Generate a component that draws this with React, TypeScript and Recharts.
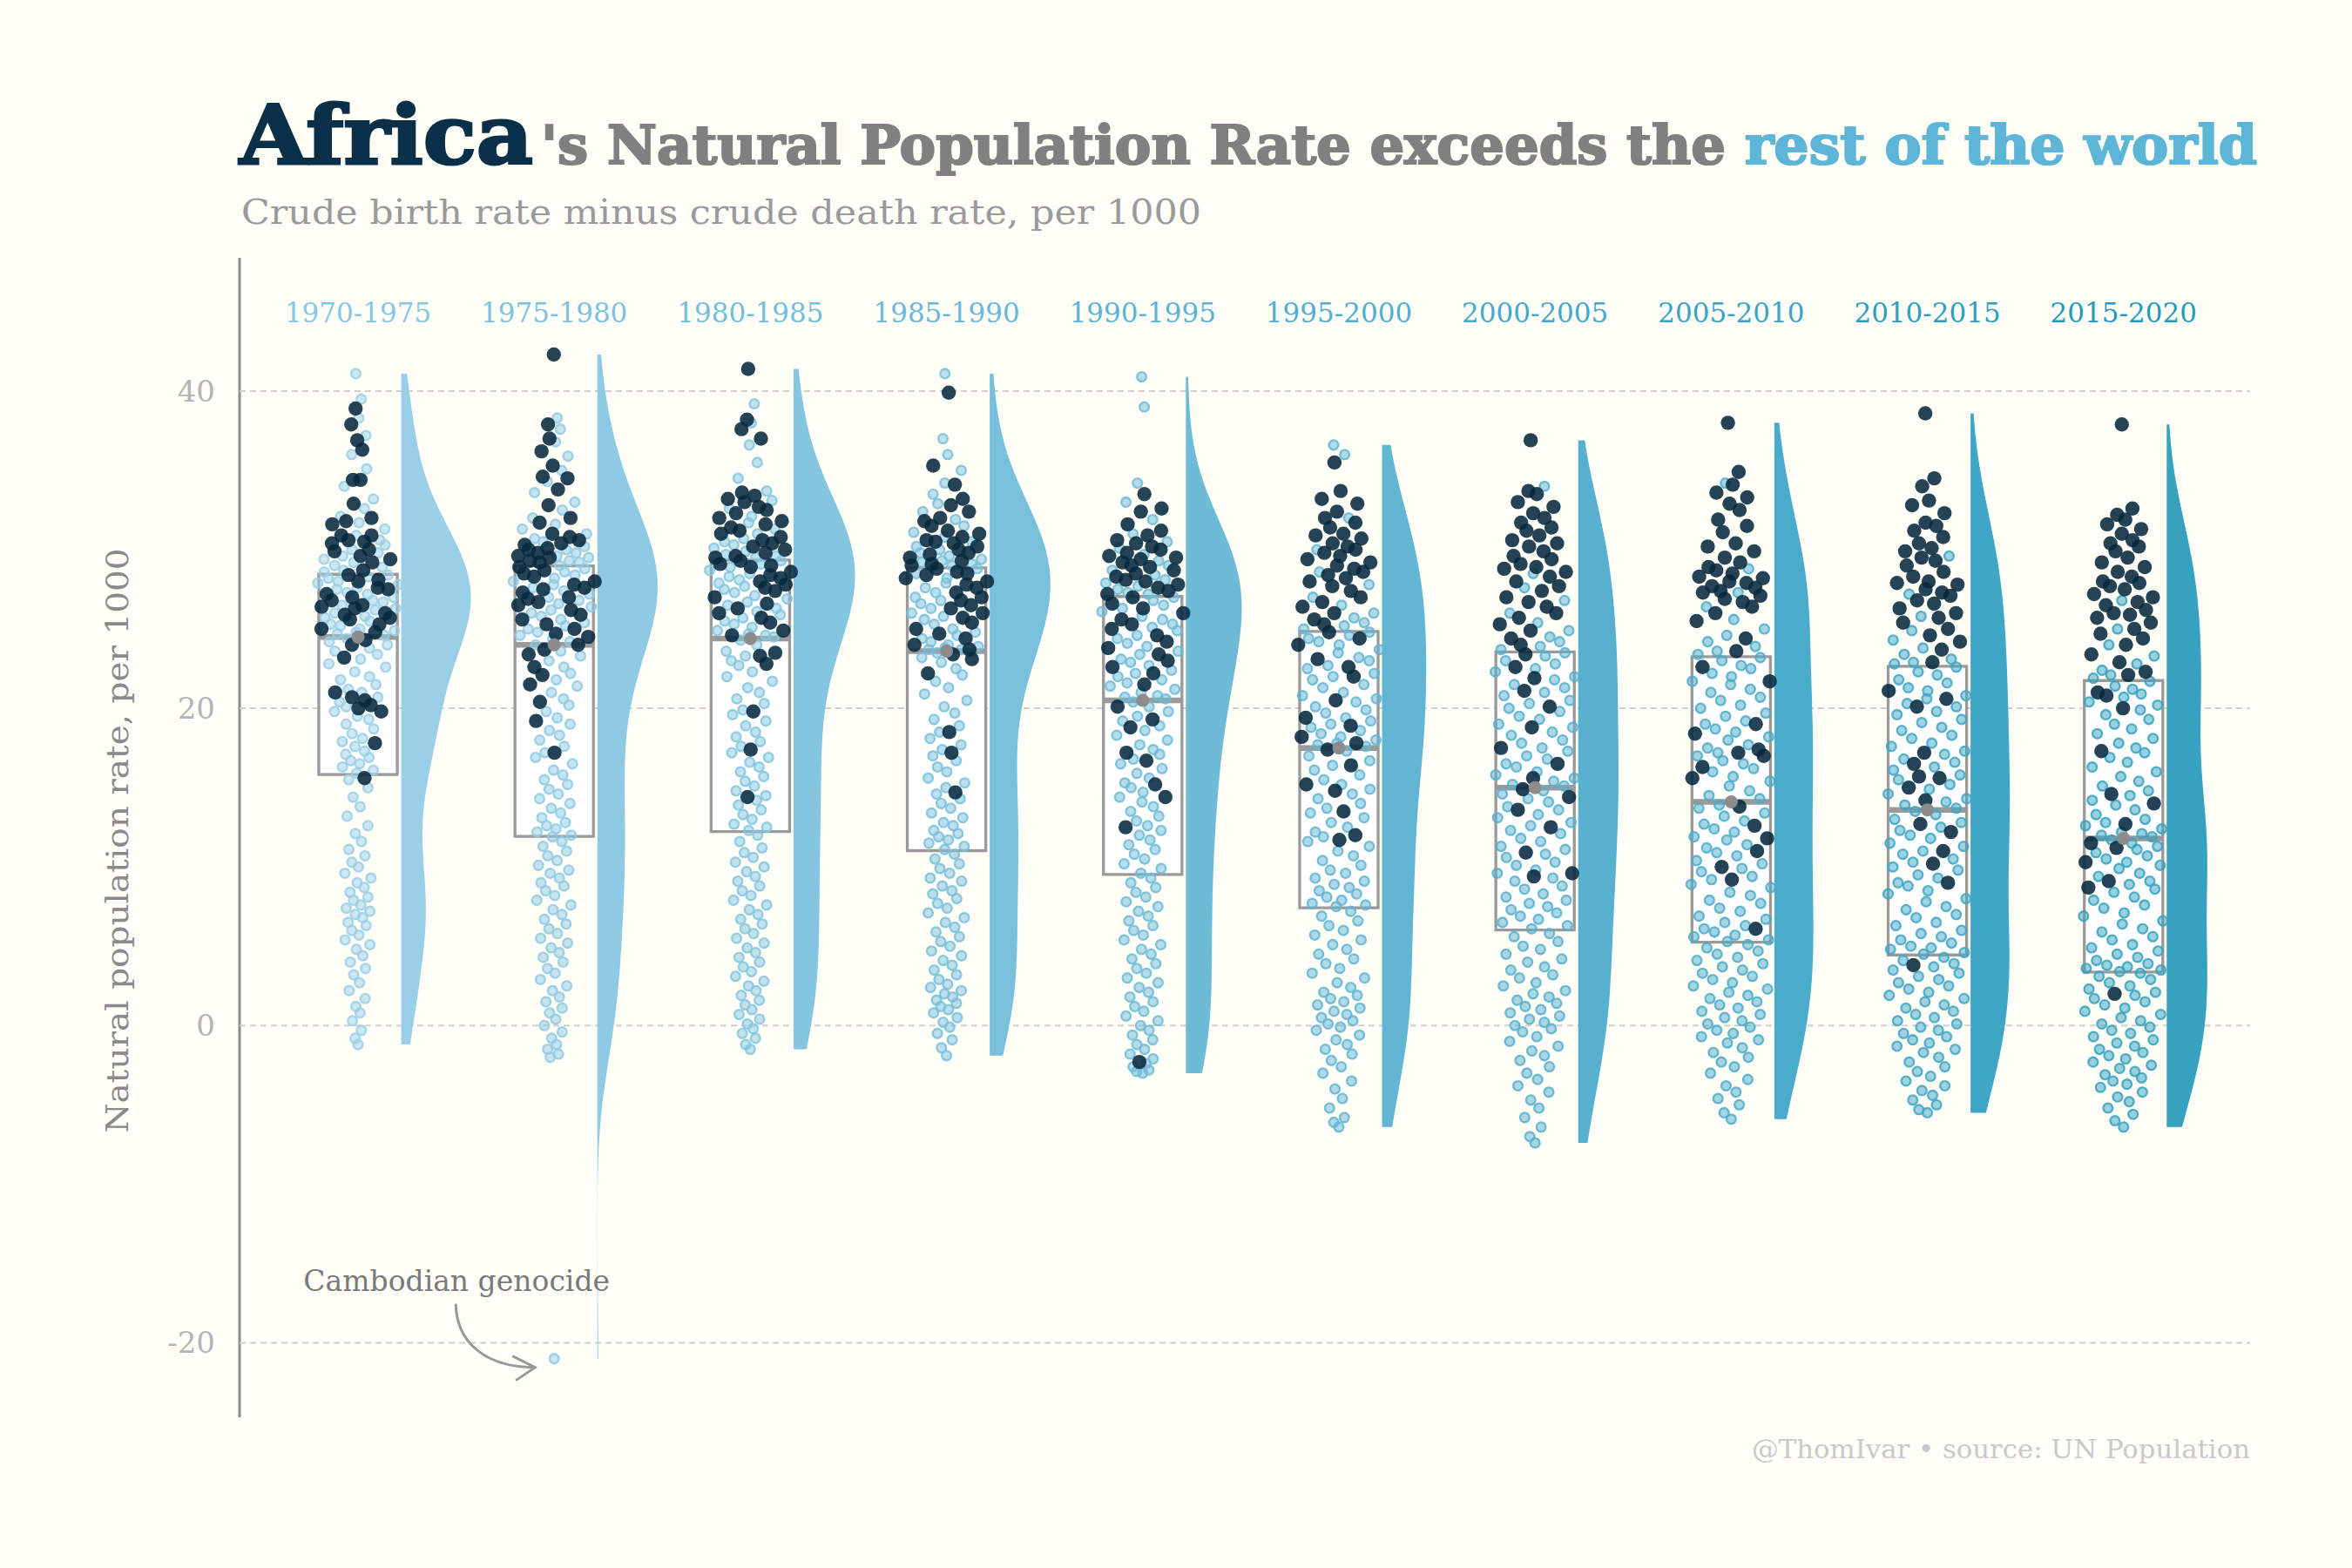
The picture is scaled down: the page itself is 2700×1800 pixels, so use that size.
import React from 'react';
import { ComposedChart, Scatter, XAxis, YAxis } from 'recharts';

// natural population rate (births - deaths per 1000), one value per country
const PERIODS = ['1970-1975', '1975-1980', '1980-1985', '1985-1990', '1990-1995', '1995-2000', '2000-2005', '2005-2010', '2010-2015', '2015-2020'];

const AFRICA_1970 = [38.9, 37.9, 36.9, 36.3, 34.4, 34.4, 32.9, 32.0, 31.8, 31.6, 30.9, 30.9, 30.6, 30.5, 30.4, 30.0, 29.9, 29.6, 29.4, 29.2, 28.7, 28.4, 28.1, 28.0, 27.6, 27.5, 27.2, 27.0, 26.8, 26.5, 26.4, 26.3, 26.0, 25.9, 25.7, 25.6, 25.3, 25.0, 24.8, 24.3, 24.0, 23.2, 21.0, 20.7, 20.5, 20.2, 20.0, 19.8, 17.8, 15.6];
const REST_1970 = [41.1, 39.5, 38.3, 37.2, 36.0, 35.1, 34.0, 33.2, 32.6, 32.1, 31.7, 31.3, 30.9, 30.6, 30.3, 30.0, 29.8, 29.6, 29.4, 29.2, 29.0, 28.9, 28.7, 28.6, 28.4, 28.3, 28.2, 28.0, 27.9, 27.8, 27.6, 27.5, 27.3, 27.2, 27.0, 26.8, 26.7, 26.5, 26.3, 26.2, 26.0, 25.8, 25.7, 25.5, 25.3, 25.2, 25.0, 24.9, 24.8, 24.7, 24.6, 24.4, 24.2, 24.0, 23.8, 23.6, 23.4, 23.1, 22.8, 22.6, 22.3, 22.0, 21.8, 21.5, 21.2, 21.0, 20.7, 20.4, 20.1, 19.8, 19.5, 19.3, 19.0, 18.7, 18.4, 18.1, 17.9, 17.6, 17.3, 17.1, 16.9, 16.7, 16.5, 16.3, 16.1, 15.9, 15.5, 15.0, 14.4, 13.8, 13.2, 12.6, 12.1, 11.6, 11.1, 10.7, 10.3, 10.0, 9.6, 9.3, 9.0, 8.7, 8.4, 8.1, 7.9, 7.6, 7.4, 7.2, 7.0, 6.8, 6.5, 6.3, 6.0, 5.7, 5.4, 5.1, 4.8, 4.4, 4.0, 3.6, 3.2, 2.7, 2.2, 1.7, 1.2, 0.8, 0.3, -0.3, -0.8, -1.2];

const AFRICA_1975 = [42.3, 37.9, 37.0, 36.2, 35.3, 34.6, 34.5, 33.8, 32.8, 32.0, 31.7, 31.0, 30.8, 30.6, 30.4, 30.3, 30.1, 30.0, 29.8, 29.6, 29.5, 29.3, 29.2, 28.9, 28.7, 28.5, 28.3, 28.0, 27.8, 27.6, 27.5, 27.3, 27.0, 26.9, 26.7, 26.5, 26.2, 25.9, 25.6, 25.3, 25.0, 24.7, 24.5, 24.0, 23.7, 23.4, 22.6, 22.1, 21.5, 20.4, 19.2, 17.2];
const REST_1975 = [38.3, 37.6, 36.8, 35.9, 35.0, 34.3, 33.6, 33.0, 32.5, 32.0, 31.6, 31.3, 31.0, 30.7, 30.5, 30.2, 30.0, 29.8, 29.6, 29.5, 29.3, 29.2, 29.0, 28.8, 28.6, 28.4, 28.2, 28.0, 27.8, 27.6, 27.4, 27.2, 27.0, 26.8, 26.6, 26.4, 26.2, 26.0, 25.8, 25.6, 25.4, 25.2, 25.0, 24.8, 24.6, 24.4, 24.2, 24.0, 23.6, 23.3, 23.0, 22.6, 22.2, 21.8, 21.4, 21.0, 20.6, 20.2, 19.8, 19.4, 19.0, 18.6, 18.3, 18.0, 17.6, 17.2, 16.9, 16.5, 16.1, 15.8, 15.5, 15.2, 14.9, 14.6, 14.3, 14.0, 13.7, 13.4, 13.1, 12.8, 12.6, 12.4, 12.2, 12.0, 11.9, 11.6, 11.3, 11.0, 10.7, 10.4, 10.1, 9.8, 9.6, 9.3, 9.0, 8.8, 8.5, 8.2, 7.9, 7.6, 7.3, 7.0, 6.7, 6.4, 6.1, 5.8, 5.5, 5.2, 4.9, 4.6, 4.3, 4.0, 3.6, 3.3, 2.9, 2.5, 2.2, 1.8, 1.5, 1.1, 0.8, 0.4, 0.0, -0.4, -0.8, -1.2, -1.5, -1.8, -2.0, -21.0];

const AFRICA_1980 = [41.4, 38.2, 37.6, 37.0, 33.6, 33.4, 33.2, 33.0, 32.7, 32.5, 32.3, 32.0, 31.8, 31.6, 31.4, 31.2, 31.0, 30.8, 30.6, 30.4, 30.2, 30.0, 29.8, 29.6, 29.5, 29.3, 29.1, 29.0, 28.9, 28.6, 28.4, 28.2, 28.0, 27.8, 27.6, 27.4, 27.0, 26.6, 26.3, 26.0, 25.7, 25.4, 24.9, 24.6, 23.5, 23.3, 22.8, 19.8, 17.4, 14.4];
const REST_1980 = [39.2, 38.0, 36.6, 35.5, 34.5, 33.7, 33.1, 32.6, 32.1, 31.7, 31.3, 31.0, 30.7, 30.5, 30.3, 30.1, 29.9, 29.7, 29.6, 29.5, 29.3, 29.1, 28.9, 28.7, 28.5, 28.3, 28.1, 27.9, 27.7, 27.5, 27.3, 27.1, 26.9, 26.7, 26.5, 26.3, 26.1, 25.9, 25.7, 25.5, 25.3, 25.1, 24.9, 24.7, 24.6, 24.5, 24.3, 24.0, 23.6, 23.3, 23.0, 22.7, 22.3, 22.0, 21.7, 21.3, 21.0, 20.6, 20.3, 19.9, 19.6, 19.2, 18.9, 18.5, 18.2, 17.9, 17.6, 17.2, 16.9, 16.6, 16.3, 16.0, 15.7, 15.4, 15.1, 14.8, 14.5, 14.2, 13.9, 13.6, 13.3, 13.0, 12.7, 12.5, 12.3, 12.0, 11.6, 11.2, 10.9, 10.6, 10.3, 10.0, 9.7, 9.4, 9.1, 8.8, 8.5, 8.2, 7.9, 7.6, 7.3, 7.0, 6.7, 6.4, 6.1, 5.8, 5.5, 5.2, 4.9, 4.6, 4.3, 4.0, 3.7, 3.4, 3.1, 2.8, 2.5, 2.2, 1.9, 1.6, 1.3, 1.0, 0.7, 0.4, 0.1, -0.2, -0.5, -0.8, -1.2, -1.5];

const AFRICA_1985 = [39.9, 35.3, 34.1, 33.2, 32.8, 32.4, 32.0, 31.8, 31.5, 31.2, 31.0, 30.8, 30.6, 30.5, 30.4, 30.2, 30.0, 29.8, 29.7, 29.5, 29.3, 29.1, 29.0, 28.8, 28.6, 28.5, 28.4, 28.2, 28.0, 27.8, 27.6, 27.3, 27.0, 26.8, 26.5, 26.3, 26.0, 25.7, 25.4, 25.0, 24.7, 24.4, 24.0, 23.7, 23.4, 23.1, 22.2, 18.5, 17.2, 14.7];
const REST_1985 = [41.1, 37.0, 36.0, 35.0, 34.2, 33.5, 32.9, 32.4, 31.9, 31.5, 31.1, 30.8, 30.5, 30.2, 30.0, 29.8, 29.6, 29.4, 29.3, 29.2, 29.1, 29.0, 28.8, 28.5, 28.2, 27.9, 27.6, 27.3, 27.0, 26.8, 26.6, 26.3, 26.0, 25.8, 25.6, 25.3, 25.0, 24.8, 24.6, 24.4, 24.2, 24.0, 23.9, 23.8, 23.7, 23.7, 23.5, 23.2, 22.9, 22.5, 22.1, 21.7, 21.3, 20.9, 20.5, 20.1, 19.7, 19.3, 18.9, 18.5, 18.1, 17.7, 17.4, 17.0, 16.7, 16.3, 16.0, 15.6, 15.3, 15.0, 14.6, 14.3, 14.0, 13.7, 13.4, 13.1, 12.8, 12.6, 12.3, 12.1, 11.9, 11.7, 11.5, 11.3, 11.1, 10.8, 10.5, 10.2, 9.9, 9.6, 9.3, 9.1, 8.8, 8.5, 8.3, 8.0, 7.7, 7.4, 7.1, 6.8, 6.5, 6.2, 5.9, 5.6, 5.3, 5.0, 4.7, 4.4, 4.1, 3.8, 3.5, 3.2, 2.9, 2.6, 2.4, 2.2, 2.0, 1.8, 1.6, 1.4, 1.2, 1.0, 0.8, 0.5, 0.2, -0.1, -0.5, -0.9, -1.4, -1.9];

const AFRICA_1990 = [33.5, 32.6, 32.4, 31.6, 31.2, 30.9, 30.6, 30.4, 30.2, 30.0, 29.8, 29.6, 29.5, 29.4, 29.2, 29.0, 28.9, 28.7, 28.5, 28.3, 28.1, 28.0, 27.8, 27.6, 27.4, 27.2, 27.0, 26.6, 26.3, 26.0, 25.6, 25.3, 25.0, 24.6, 24.2, 23.8, 23.4, 23.0, 22.6, 22.2, 21.5, 20.1, 19.3, 18.8, 17.2, 16.7, 15.2, 14.4, 12.5, -2.3];
const REST_1990 = [40.9, 39.0, 34.2, 33.0, 31.9, 31.0, 30.5, 30.1, 29.7, 29.3, 29.0, 28.7, 28.4, 28.1, 27.9, 27.7, 27.5, 27.3, 27.2, 27.0, 26.8, 26.5, 26.3, 26.1, 25.8, 25.6, 25.3, 25.1, 24.9, 24.6, 24.4, 24.1, 23.9, 23.6, 23.4, 23.1, 22.9, 22.7, 22.4, 22.2, 22.0, 21.8, 21.6, 21.4, 21.2, 21.0, 20.8, 20.7, 20.6, 20.4, 20.1, 19.8, 19.5, 19.2, 18.9, 18.6, 18.3, 18.0, 17.7, 17.4, 17.1, 16.8, 16.5, 16.2, 15.9, 15.6, 15.3, 15.0, 14.7, 14.4, 14.1, 13.8, 13.5, 13.2, 12.9, 12.6, 12.3, 12.0, 11.7, 11.4, 11.1, 10.8, 10.5, 10.2, 9.9, 9.6, 9.3, 9.0, 8.7, 8.4, 8.1, 7.8, 7.5, 7.2, 6.9, 6.6, 6.3, 6.0, 5.7, 5.4, 5.1, 4.8, 4.5, 4.2, 3.9, 3.6, 3.3, 3.0, 2.7, 2.4, 2.1, 1.8, 1.5, 1.2, 0.9, 0.6, 0.3, 0.0, -0.3, -0.6, -0.9, -1.2, -1.5, -1.8, -2.1, -2.4, -2.6, -2.8, -2.9, -3.0];

const AFRICA_1995 = [35.5, 33.7, 33.2, 32.9, 32.4, 32.0, 31.7, 31.4, 31.0, 30.9, 30.7, 30.4, 30.2, 30.0, 29.8, 29.6, 29.4, 29.2, 29.0, 28.8, 28.6, 28.4, 28.2, 28.0, 27.7, 27.4, 27.0, 26.7, 26.4, 26.0, 25.6, 25.3, 24.8, 24.4, 24.0, 23.1, 22.6, 22.0, 20.5, 19.4, 18.9, 18.2, 17.8, 17.4, 16.4, 15.2, 14.8, 13.5, 12.0, 11.7];
const REST_1995 = [36.6, 36.0, 32.0, 30.0, 28.6, 27.8, 27.0, 26.5, 26.0, 25.7, 25.4, 25.2, 25.0, 24.8, 24.6, 24.4, 24.2, 24.0, 23.7, 23.5, 23.2, 23.0, 22.7, 22.5, 22.2, 22.0, 21.8, 21.5, 21.3, 21.0, 20.8, 20.6, 20.4, 20.1, 19.9, 19.7, 19.4, 19.2, 19.0, 18.8, 18.6, 18.4, 18.2, 18.0, 17.8, 17.7, 17.6, 17.3, 17.0, 16.7, 16.4, 16.1, 15.8, 15.5, 15.2, 14.9, 14.6, 14.3, 14.0, 13.7, 13.4, 13.1, 12.8, 12.5, 12.2, 11.9, 11.6, 11.3, 11.0, 10.7, 10.4, 10.1, 9.8, 9.6, 9.3, 9.1, 8.9, 8.7, 8.5, 8.3, 8.1, 7.9, 7.7, 7.6, 7.5, 7.2, 6.9, 6.6, 6.3, 6.0, 5.7, 5.4, 5.1, 4.8, 4.5, 4.2, 3.9, 3.6, 3.3, 3.0, 2.7, 2.4, 2.1, 1.9, 1.7, 1.5, 1.3, 1.1, 0.9, 0.7, 0.5, 0.3, 0.1, -0.1, -0.3, -0.6, -0.9, -1.2, -1.5, -1.8, -2.2, -2.6, -3.0, -3.5, -4.0, -4.6, -5.2, -5.8, -6.1, -6.4];

const AFRICA_2000 = [36.9, 33.7, 33.5, 33.0, 32.7, 32.3, 32.0, 31.7, 31.4, 31.2, 30.9, 30.6, 30.4, 30.2, 29.9, 29.6, 29.4, 29.1, 28.9, 28.8, 28.6, 28.3, 28.0, 27.7, 27.4, 27.0, 26.7, 26.4, 26.0, 25.7, 25.3, 24.9, 24.4, 24.0, 23.4, 22.6, 21.9, 21.1, 20.1, 18.8, 17.5, 16.5, 15.6, 14.9, 14.4, 13.6, 12.5, 10.9, 9.6, 9.4];
const REST_2000 = [34.0, 28.5, 27.6, 26.8, 26.0, 25.4, 24.9, 24.5, 24.2, 23.9, 23.7, 23.5, 23.3, 23.0, 22.8, 22.5, 22.3, 22.0, 21.8, 21.5, 21.3, 21.0, 20.8, 20.5, 20.3, 20.0, 19.8, 19.5, 19.3, 19.0, 18.8, 18.5, 18.3, 18.0, 17.8, 17.5, 17.3, 17.0, 16.8, 16.5, 16.3, 16.0, 15.8, 15.6, 15.4, 15.2, 15.1, 14.8, 14.6, 14.3, 14.1, 13.8, 13.6, 13.3, 13.1, 12.8, 12.6, 12.3, 12.1, 11.8, 11.6, 11.3, 11.1, 10.8, 10.6, 10.3, 10.1, 9.8, 9.6, 9.3, 9.1, 8.8, 8.6, 8.3, 8.1, 7.9, 7.7, 7.5, 7.3, 7.1, 6.9, 6.7, 6.5, 6.3, 6.1, 5.8, 5.6, 5.3, 5.0, 4.8, 4.5, 4.2, 4.0, 3.7, 3.5, 3.2, 3.0, 2.7, 2.5, 2.2, 2.0, 1.8, 1.6, 1.4, 1.2, 1.0, 0.8, 0.6, 0.4, 0.2, 0.0, -0.2, -0.4, -0.7, -1.0, -1.3, -1.6, -1.9, -2.2, -2.6, -3.0, -3.4, -3.8, -4.2, -4.7, -5.2, -5.8, -6.4, -7.0, -7.4];

const AFRICA_2005 = [38.0, 34.9, 34.1, 33.6, 33.3, 32.9, 32.5, 31.9, 31.5, 31.1, 30.4, 30.2, 29.9, 29.5, 29.2, 28.9, 28.7, 28.5, 28.3, 28.2, 28.0, 27.9, 27.7, 27.6, 27.4, 27.3, 27.1, 26.9, 26.7, 26.4, 26.0, 25.5, 24.4, 23.6, 22.6, 21.7, 19.0, 18.4, 17.4, 17.2, 17.0, 16.3, 15.6, 13.8, 12.6, 11.8, 11.0, 10.0, 9.2, 6.1];
const REST_2005 = [34.2, 28.8, 27.3, 26.4, 25.6, 25.0, 24.6, 24.2, 23.9, 23.6, 23.4, 23.2, 23.0, 22.7, 22.5, 22.2, 22.0, 21.7, 21.5, 21.2, 21.0, 20.7, 20.5, 20.2, 20.0, 19.7, 19.5, 19.2, 19.0, 18.7, 18.5, 18.2, 18.0, 17.7, 17.5, 17.2, 17.0, 16.7, 16.5, 16.2, 16.0, 15.7, 15.4, 15.1, 14.8, 14.5, 14.3, 13.9, 13.7, 13.4, 13.2, 12.9, 12.7, 12.4, 12.2, 11.9, 11.7, 11.4, 11.2, 10.9, 10.7, 10.4, 10.2, 9.9, 9.7, 9.4, 9.2, 8.9, 8.7, 8.4, 8.2, 7.9, 7.7, 7.4, 7.2, 6.9, 6.7, 6.5, 6.3, 6.1, 5.9, 5.7, 5.6, 5.4, 5.3, 5.1, 4.9, 4.7, 4.5, 4.3, 4.1, 3.9, 3.7, 3.5, 3.3, 3.1, 2.9, 2.7, 2.5, 2.3, 2.1, 1.9, 1.7, 1.5, 1.3, 1.1, 0.9, 0.7, 0.5, 0.3, 0.1, -0.1, -0.3, -0.5, -0.7, -0.9, -1.1, -1.4, -1.7, -2.0, -2.3, -2.6, -3.0, -3.4, -3.8, -4.2, -4.6, -5.0, -5.5, -5.9];

const AFRICA_2010 = [38.6, 34.5, 34.0, 33.1, 32.8, 32.3, 31.7, 31.5, 31.2, 30.8, 30.4, 30.1, 29.9, 29.5, 29.3, 29.0, 28.6, 28.3, 28.0, 27.9, 27.8, 27.5, 27.3, 27.1, 26.8, 26.6, 26.3, 26.0, 25.7, 25.4, 25.0, 24.6, 24.2, 23.7, 22.9, 21.1, 20.6, 20.1, 17.2, 16.5, 15.7, 15.6, 15.0, 14.2, 12.7, 12.2, 11.0, 10.2, 9.0, 3.8];
const REST_2010 = [29.6, 27.2, 25.8, 24.9, 24.3, 23.8, 23.4, 23.1, 22.9, 22.8, 22.6, 22.3, 22.1, 21.8, 21.6, 21.3, 21.1, 20.8, 20.6, 20.3, 20.1, 19.8, 19.6, 19.3, 19.1, 18.8, 18.6, 18.3, 18.1, 17.8, 17.6, 17.3, 17.1, 16.8, 16.6, 16.3, 16.1, 15.8, 15.5, 15.2, 14.9, 14.6, 14.3, 14.1, 13.9, 13.7, 13.5, 13.3, 13.0, 12.8, 12.5, 12.3, 12.0, 11.8, 11.5, 11.3, 11.0, 10.8, 10.5, 10.3, 10.0, 9.8, 9.5, 9.3, 9.0, 8.8, 8.5, 8.3, 8.0, 7.8, 7.5, 7.3, 7.0, 6.8, 6.5, 6.3, 6.0, 5.8, 5.6, 5.4, 5.2, 5.0, 4.9, 4.8, 4.6, 4.5, 4.3, 4.1, 3.9, 3.7, 3.5, 3.3, 3.1, 2.9, 2.7, 2.5, 2.3, 2.1, 1.9, 1.7, 1.5, 1.3, 1.1, 0.9, 0.7, 0.5, 0.3, 0.1, -0.1, -0.3, -0.5, -0.7, -0.9, -1.1, -1.3, -1.5, -1.7, -2.0, -2.3, -2.6, -2.9, -3.2, -3.5, -3.8, -4.1, -4.4, -4.7, -5.0, -5.3, -5.5];

const AFRICA_2015 = [37.9, 32.6, 32.2, 31.9, 31.6, 31.3, 31.0, 30.6, 30.4, 30.2, 29.9, 29.5, 29.2, 28.9, 28.6, 28.3, 28.0, 27.9, 27.7, 27.5, 27.2, 27.0, 26.7, 26.5, 26.2, 26.0, 25.9, 25.7, 25.4, 25.0, 24.7, 24.4, 24.0, 23.4, 22.9, 22.3, 22.1, 21.0, 20.8, 20.0, 17.3, 14.6, 14.0, 12.7, 11.5, 11.2, 10.3, 9.1, 8.7, 2.0];
const REST_2015 = [26.8, 25.0, 24.0, 23.3, 22.8, 22.4, 22.1, 21.9, 21.7, 21.4, 21.2, 20.9, 20.7, 20.4, 20.2, 19.9, 19.6, 19.3, 19.0, 18.7, 18.4, 18.1, 17.8, 17.5, 17.2, 16.9, 16.6, 16.3, 16.0, 15.7, 15.4, 15.1, 14.8, 14.5, 14.2, 13.9, 13.6, 13.3, 13.0, 12.8, 12.6, 12.4, 12.2, 12.1, 12.0, 11.9, 11.7, 11.5, 11.3, 11.1, 10.9, 10.7, 10.5, 10.3, 10.1, 9.9, 9.6, 9.4, 9.1, 8.9, 8.6, 8.4, 8.1, 7.9, 7.6, 7.4, 7.1, 6.9, 6.6, 6.4, 6.1, 5.9, 5.6, 5.4, 5.1, 4.9, 4.7, 4.5, 4.3, 4.1, 3.9, 3.8, 3.7, 3.6, 3.5, 3.4, 3.3, 3.1, 2.9, 2.7, 2.5, 2.3, 2.1, 1.9, 1.7, 1.5, 1.3, 1.1, 0.9, 0.7, 0.5, 0.3, 0.1, -0.1, -0.3, -0.5, -0.7, -0.9, -1.1, -1.3, -1.5, -1.7, -1.9, -2.1, -2.3, -2.5, -2.7, -2.9, -3.1, -3.3, -3.5, -3.7, -3.9, -4.2, -4.5, -4.8, -5.2, -5.6, -6.0, -6.4];

const AFRICA = [AFRICA_1970, AFRICA_1975, AFRICA_1980, AFRICA_1985, AFRICA_1990, AFRICA_1995, AFRICA_2000, AFRICA_2005, AFRICA_2010, AFRICA_2015];
const REST = [REST_1970, REST_1975, REST_1980, REST_1985, REST_1990, REST_1995, REST_2000, REST_2005, REST_2010, REST_2015];

const Y_TICKS = [-20, 0, 20, 40];
const CAMBODIA = { period: 2, value: -21.0 };

const VIOLIN_COLORS = ['#9acfe7', '#8fcae4', '#84c5e0', '#79c0dc', '#6ebbd8', '#62b5d3', '#57b0ce', '#4babca', '#40a6c5', '#36a2c0'];
const LABEL_COLORS = ['#86c7e4', '#7dc2e1', '#73bddd', '#69b8d9', '#5eb3d4', '#52aecf', '#46a8ca', '#3ba3c5', '#2f9ec0', '#259abb'];
const FONT = '"DejaVu Serif", serif';
const BG = '#fffef7';

const X_DOMAIN = [0.396, 10.645];
const Y_DOMAIN = [-24.7, 48.4];
const BOX_HALF = 0.2;
const VIOLIN_GAP = 0.22;
const VIOLIN_MAX = 0.355;
const JITTER_MAX = 0.21;

function quantile(sorted: number[], p: number) {
  const h = (sorted.length - 1) * p;
  const i = Math.floor(h);
  const j = Math.min(i + 1, sorted.length - 1);
  return sorted[i] + (h - i) * (sorted[j] - sorted[i]);
}

// bw.nrd0, same as R's default
function bandwidth(sorted: number[]) {
  const n = sorted.length;
  const mean = sorted.reduce((a, b) => a + b, 0) / n;
  const sd = Math.sqrt(sorted.reduce((a, b) => a + (b - mean) ** 2, 0) / (n - 1));
  const iqr = quantile(sorted, 0.75) - quantile(sorted, 0.25);
  return 0.9 * Math.min(sd, iqr / 1.34) * Math.pow(n, -0.2);
}

function kde(values: number[], bw: number, y: number) {
  let s = 0;
  for (const v of values) {
    const z = (y - v) / bw;
    s += Math.exp(-0.5 * z * z);
  }
  return s / (values.length * bw * Math.sqrt(2 * Math.PI));
}

function vdc(n: number) {
  let v = 0;
  let d = 1;
  while (n > 0) {
    d *= 2;
    v += (n % 2) / d;
    n = Math.floor(n / 2);
  }
  return v;
}

const groups = PERIODS.map((period, i) => {
  const values = [...AFRICA[i], ...REST[i]];
  const sorted = [...values].sort((a, b) => a - b);
  const bw = bandwidth(sorted);
  const lo = sorted[0];
  const hi = sorted[sorted.length - 1];
  const grid: { y: number; d: number }[] = [];
  for (let k = 0; k <= 160; k++) {
    const y = hi - ((hi - lo) * k) / 160;
    grid.push({ y, d: kde(values, bw, y) });
  }
  const peak = Math.max(...grid.map((g) => g.d));
  return { i, period, x: i + 1, values, bw, lo, hi, grid, peak, q1: quantile(sorted, 0.25), med: quantile(sorted, 0.5), q3: quantile(sorted, 0.75) };
});
const globalPeak = Math.max(...groups.map((g) => g.peak));

const gridLines = Y_TICKS.map((t) => [{ x: X_DOMAIN[0], y: t }, { x: X_DOMAIN[1], y: t }]);

const violins = groups.map((g) => {
  const base = g.x + VIOLIN_GAP;
  return [{ x: base, y: g.hi }, ...g.grid.map((p) => ({ x: base + (VIOLIN_MAX * p.d) / globalPeak, y: p.y })), { x: base, y: g.lo }];
});

const boxes = groups.map((g) => {
  const l = g.x - BOX_HALF;
  const r = g.x + BOX_HALF;
  return [{ x: l, y: g.q1 }, { x: r, y: g.q1 }, { x: r, y: g.q3 }, { x: l, y: g.q3 }, { x: l, y: g.q1 }, { x: r, y: g.q1 }];
});
const medians = groups.map((g) => [{ x: g.x - BOX_HALF, y: g.med }, { x: g.x + BOX_HALF, y: g.med }]);
const medianDots = groups.map((g) => ({ x: g.x, y: g.med }));

// quasirandom spread, scaled by local density
const lightPts: { x: number; y: number; g: number }[] = [];
const darkPts: { x: number; y: number; g: number }[] = [];
groups.forEach((g) => {
  const tagged = [...AFRICA[g.i].map((v) => ({ v, africa: true })), ...REST[g.i].map((v) => ({ v, africa: false }))];
  const order = tagged.map((_, k) => k).sort((a, b) => tagged[a].v - tagged[b].v);
  order.forEach((k, rank) => {
    const p = tagged[k];
    const spread = (JITTER_MAX * kde(g.values, g.bw, p.v)) / g.peak;
    const pt = { x: g.x + (2 * vdc(rank + 1) - 1) * spread, y: p.v, g: g.i };
    (p.africa ? darkPts : lightPts).push(pt);
  });
});

const Empty = () => <g />;

const LightDot = (p: any) => {
  const c = VIOLIN_COLORS[p.payload.g];
  return <circle cx={p.cx} cy={p.cy} r={5.4} fill={c} fillOpacity={0.5} stroke={c} strokeOpacity={0.85} strokeWidth={2.3} />;
};
const DarkDot = (p: any) => <circle cx={p.cx} cy={p.cy} r={8.2} fill="#07293f" fillOpacity={0.88} />;
const MedianDot = (p: any) => <circle cx={p.cx} cy={p.cy} r={7.5} fill="#8c8c8c" />;

const CambodiaNote = (p: any) => {
  const { cx, cy } = p;
  return (
    <g>
      <text x={cx - 112} y={cy - 78} textAnchor="middle" fontFamily={FONT} fontSize={33} fill="#7a7a7a">Cambodian genocide</text>
      <path d={`M ${cx - 113} ${cy - 63} C ${cx - 112} ${cy - 15}, ${cx - 75} ${cy + 10}, ${cx - 22} ${cy + 10}`} fill="none" stroke="#999" strokeWidth={3} />
      <path d={`M ${cx - 48} ${cy - 3} L ${cx - 22} ${cy + 10} L ${cx - 44} ${cy + 25}`} fill="none" stroke="#999" strokeWidth={3} />
    </g>
  );
};

const PeriodTick = (p: any) => {
  const idx = Math.round(p.payload.value) - 1;
  return (
    <text x={p.x} y={p.y + 82} textAnchor="middle" fontFamily={FONT} fontSize={31} fill={LABEL_COLORS[idx]}>
      {PERIODS[idx]}
    </text>
  );
};

export default function App() {
  return (
    <div style={{ position: 'absolute', left: 0, top: 0, width: 2700, height: 1800, background: BG, fontFamily: FONT }}>
      <svg width={2700} height={1800} style={{ position: 'absolute', left: 0, top: 0 }}>
        <text x={275} y={188} fontFamily={FONT} fontWeight={700} fontSize={94} fill="#0a3049" stroke="#0a3049" strokeWidth={3} textLength={337} lengthAdjust="spacingAndGlyphs">Africa</text>
        <text x={621} y={188} fontFamily={FONT} fontWeight={700} fontSize={62} fill="#808080" stroke="#808080" strokeWidth={2.2} textLength={1360} lengthAdjust="spacingAndGlyphs">'s Natural Population Rate exceeds the</text>
        <text x={2003} y={188} fontFamily={FONT} fontWeight={700} fontSize={62} fill="#5db5d7" stroke="#5db5d7" strokeWidth={2.2} textLength={588} lengthAdjust="spacingAndGlyphs">rest of the world</text>
        <text x={277} y={257} fontFamily={FONT} fontSize={40} fill="#9a9a9a" textLength={1102} lengthAdjust="spacingAndGlyphs">Crude birth rate minus crude death rate, per 1000</text>
        <text transform="translate(147,965) rotate(-90)" textAnchor="middle" fontFamily={FONT} fontSize={36} fill="#8a8a8a" textLength={671} lengthAdjust="spacingAndGlyphs">Natural population rate, per 1000</text>
        <text x={2583} y={1674} textAnchor="end" fontFamily={FONT} fontSize={29} fill="#c9c9c9" textLength={572} lengthAdjust="spacingAndGlyphs">@ThomIvar • source: UN Population</text>
      </svg>
      <div style={{ position: 'absolute', left: 0, top: 0 }}>
        <ComposedChart width={2700} height={1800} margin={{ top: 286, right: 117, bottom: 173, left: 100 }}>
          <XAxis
            type="number"
            dataKey="x"
            orientation="top"
            domain={X_DOMAIN}
            ticks={PERIODS.map((_, i) => i + 1)}
            allowDataOverflow
            axisLine={false}
            tickLine={false}
            height={10}
            interval={0}
            tick={(p: any) => <PeriodTick {...p} />}
          />
          <YAxis
            type="number"
            dataKey="y"
            domain={Y_DOMAIN}
            ticks={Y_TICKS}
            allowDataOverflow
            width={175}
            axisLine={{ stroke: '#8c8c8c', strokeWidth: 3 }}
            tickLine={false}
            tickMargin={22}
            interval={0}
            tick={{ fill: '#b4b4b4', fontSize: 34, fontFamily: FONT }}
          />
          {gridLines.map((l, i) => (
            <Scatter key={'grid' + i} data={l} shape={Empty} line={{ fill: 'none', stroke: '#cfcfcf', strokeWidth: 2, strokeDasharray: '7 5' }} lineType="joint" isAnimationActive={false} />
          ))}
          {violins.map((v, i) => (
            <Scatter key={'violin' + i} data={v} shape={Empty} line={{ fill: VIOLIN_COLORS[i], stroke: 'none' }} lineType="joint" isAnimationActive={false} />
          ))}
          {boxes.map((b, i) => (
            <Scatter key={'box' + i} data={b} shape={Empty} line={{ fill: '#ffffff', stroke: '#9a9a9a', strokeWidth: 3.3 }} lineType="joint" isAnimationActive={false} />
          ))}
          {medians.map((m, i) => (
            <Scatter key={'med' + i} data={m} shape={Empty} line={{ fill: 'none', stroke: '#9a9a9a', strokeWidth: 6.5 }} lineType="joint" isAnimationActive={false} />
          ))}
          <Scatter data={lightPts} shape={LightDot} isAnimationActive={false} />
          <Scatter data={darkPts} shape={DarkDot} isAnimationActive={false} />
          <Scatter data={medianDots} shape={MedianDot} isAnimationActive={false} />
          <Scatter data={[{ x: CAMBODIA.period, y: CAMBODIA.value }]} shape={CambodiaNote} isAnimationActive={false} />
        </ComposedChart>
      </div>
    </div>
  );
}
